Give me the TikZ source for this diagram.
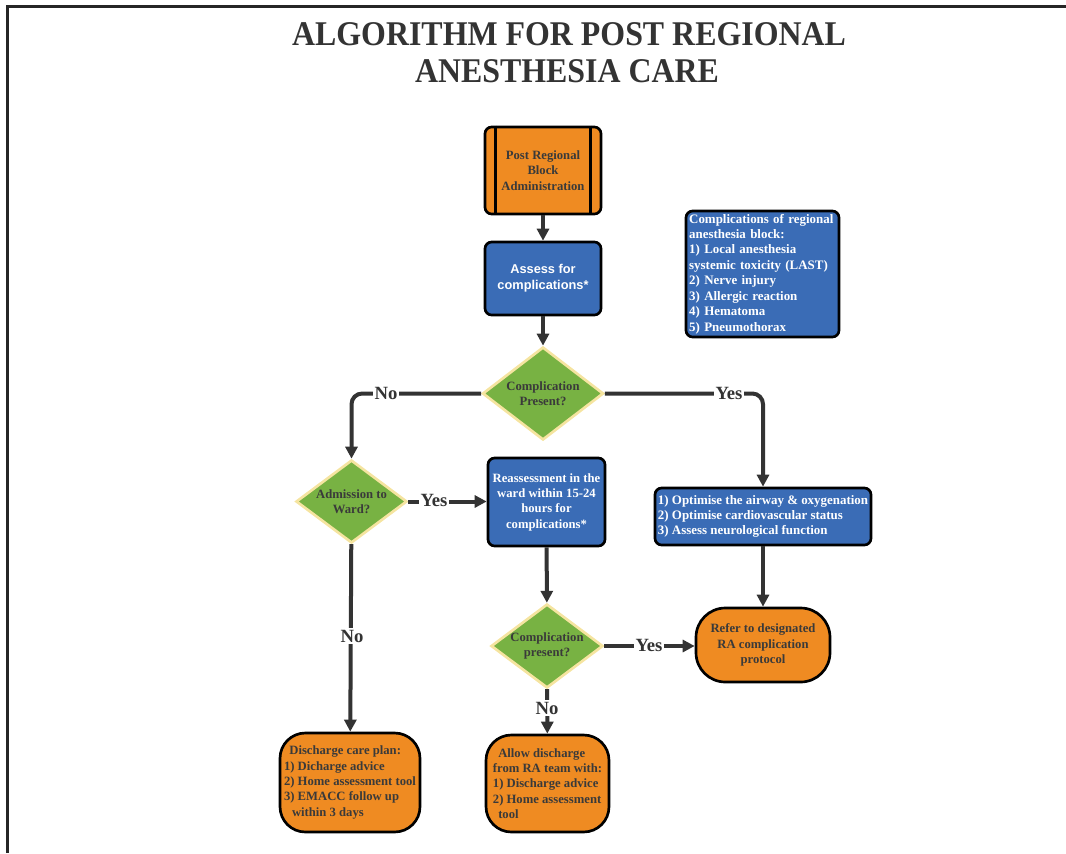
\documentclass[tikz,border=0pt]{standalone}
\usepackage{fontspec}
\usepackage{graphicx}
\setmainfont{Liberation Serif}
\setsansfont{Liberation Sans}
\usetikzlibrary{shapes.geometric,arrows.meta}
\definecolor{orng}{RGB}{239,139,34}
\definecolor{blu}{RGB}{58,108,182}
\definecolor{grn}{RGB}{120,178,67}
\definecolor{yel}{RGB}{245,228,160}
\definecolor{dk}{RGB}{51,51,51}
\definecolor{txt}{RGB}{58,58,58}
\begin{document}
\begin{tikzpicture}[x=0.75pt,y=-0.75pt,
 box/.style={draw=black,line width=2pt,rounded corners=5pt,inner sep=0pt,align=center,font=\bfseries\fontsize{9.5}{11.5}\selectfont},
 orbox/.style={box,fill=orng,text=txt},
 blbox/.style={box,fill=blu,text=white},
 dec/.style={diamond,draw=yel,line width=2pt,fill=grn,text=txt,inner sep=0pt,shape aspect=1.3,align=center,font=\bfseries\fontsize{9.5}{11.4}\selectfont},
 arr/.style={draw=dk,line width=3pt,-{Triangle[length=9pt,width=9pt]}},
 lbl/.style={fill=white,inner sep=1pt,text=dk,font=\bfseries\fontsize{14}{15}\selectfont},
 ttl/.style={anchor=base,inner sep=0pt,text=dk,font=\bfseries\fontsize{26}{30}\selectfont},
]
\useasboundingbox (0,0) rectangle (1066,853);
% frame
\draw[line width=2.25pt,draw=black!85] (7,853) -- (7,6) -- (1066,6);
% title
\node[ttl] (t1) at (569,45) {\scalebox{0.92}[1]{ALGORITHM FOR POST REGIONAL}};
\node[ttl] (t2) at (567,82) {\scalebox{0.92}[1]{ANESTHESIA CARE}};
% nodes
\node[orbox,minimum width=87pt,minimum height=65.25pt] (b1) at (543,170.5) {Post Regional\\Block\\Administration};
\draw[line width=2pt] ([xshift=9pt]b1.north west) -- ([xshift=9pt]b1.south west);
\draw[line width=2pt] ([xshift=-9pt]b1.north east) -- ([xshift=-9pt]b1.south east);
\node[blbox,minimum width=87pt,minimum height=54.75pt,font=\sffamily\bfseries\fontsize{9.6}{12}\selectfont] (b2) at (543,278.5) {Assess for\\complications*};
\node[dec,minimum width=90.75pt,minimum height=69.75pt] (d1) at (543,393.5) {Complication\\Present?};
\node[blbox,minimum width=114.75pt,minimum height=94.5pt,text width=110pt,align=left,font=\bfseries\fontsize{9.7}{11.6}\selectfont] (comp) at (762.5,274) {Complications of regional\\anesthesia block:\\1) Local anesthesia\\systemic toxicity (LAST)\\2) Nerve injury\\3) Allergic reaction\\4) Hematoma\\5) Pneumothorax};
\node[dec,minimum width=83.25pt,minimum height=62.25pt] (d2) at (351.5,501.5) {Admission to\\Ward?};
\node[blbox,minimum width=87.75pt,minimum height=66pt] (b3) at (546.5,502) {Reassessment in the\\ward within 15-24\\hours for\\complications*};
\node[blbox,minimum width=162pt,minimum height=42.75pt,align=left,font=\bfseries\fontsize{9.7}{11.4}\selectfont] (b4) at (763,516.5) {1) Optimise the airway \& oxygenation\\2) Optimise cardiovascular status\\3) Assess neurological function};
\node[orbox,rounded corners=22pt,minimum width=100.5pt,minimum height=55.5pt] (refer) at (763,645) {Refer to designated\\RA complication\\protocol};
\node[dec,minimum width=84pt,minimum height=63pt] (d3) at (547,646) {Complication\\present?};
\node[orbox,rounded corners=19pt,minimum width=105pt,minimum height=74.25pt,align=left] (dis) at (350,782.5) {\hspace*{4pt}Discharge care plan:\\1) Dicharge advice\\2) Home assessment tool\\3) EMACC follow up\\\hspace*{6pt}within 3 days};
\node[orbox,rounded corners=19pt,minimum width=92.25pt,minimum height=72.75pt,align=left] (allow) at (547.5,783.5) {\hspace*{4pt}Allow discharge\\from RA team with:\\1) Discharge advice\\2) Home assessment\\\hspace*{4pt}tool};
% connectors
\draw[arr] (b1) -- (b2);
\draw[arr] (b2) -- (d1);
\draw[arr,rounded corners=8pt] (d1.west) -| (d2.north);
\draw[arr,rounded corners=8pt] (d1.east) -| (b4.north);
\draw[arr] (d2.east) -- (d2.east -| b3.west);
\draw[arr] (b4) -- (refer);
\draw[arr] (b3) -- (d3);
\draw[arr] (d3.east) -- (d3.east -| refer.west);
\draw[arr] (d3) -- (allow);
\draw[arr] (d2) -- (dis);
% labels
\node[lbl] (l1) at (386,393) {No};
\node[lbl] (l2) at (729,393) {Yes};
\node[lbl] (l3) at (434,500) {Yes};
\node[lbl] (l4) at (352,636) {No};
\node[lbl] (l5) at (649,645) {Yes};
\node[lbl] (l6) at (547,708) {No};
\end{tikzpicture}
\end{document}
